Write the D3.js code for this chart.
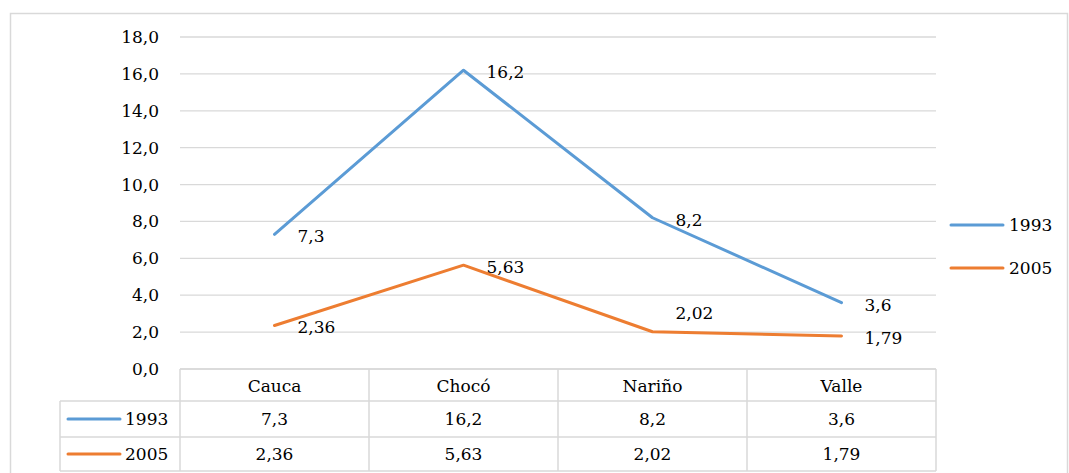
<!DOCTYPE html>
<html>
<head>
<meta charset="utf-8">
<script src="https://cdn.jsdelivr.net/npm/d3@7"></script>
<style>
  body { margin: 0; background: #fff; }
  svg text { font-family: "DejaVu Serif", "Liberation Serif", serif; }
</style>
</head>
<body>
<div class="chart"></div>
<script>
// departments (x categories)
let departments = ["Cauca", "Chocó", "Nariño", "Valle"];
// series
let seriesNames = ["1993", "2005"];
let values1993 = [7.3, 16.2, 8.2, 3.6];
let values2005 = [2.36, 5.63, 2.02, 1.79];
// labels as shown in the table
let labels1993 = ["7,3", "16,2", "8,2", "3,6"];
let labels2005 = ["2,36", "5,63", "2,02", "1,79"];
// y ticks
let yTicks = [0, 2, 4, 6, 8, 10, 12, 14, 16, 18];

let colors = ["#5b9bd5", "#ed7d31"];
let series = [
    {name: seriesNames[0], values: values1993, labels: labels1993},
    {name: seriesNames[1], values: values2005, labels: labels2005}
];

let FONT = "DejaVu Serif";
let FS = 17;

let width = 1069, height = 473;
let svg = d3.select(".chart").append("svg")
    .attr("width", width)
    .attr("height", height);

// outer chart border
svg.append("rect")
    .attr("x", 10.5).attr("y", 13.5)
    .attr("width", 1057).attr("height", 470)
    .attr("fill", "none")
    .attr("stroke", "#d9d9d9")
    .attr("stroke-width", 1.5);

//scales
let x = d3.scaleBand().domain(departments).range([180, 936]);
let y = d3.scaleLinear().domain([0, 18]).range([369, 37]);

//gridlines
svg.append("g").selectAll("line")
    .data(yTicks)
    .join("line")
    .attr("x1", 180).attr("x2", 936)
    .attr("y1", d => y(d)).attr("y2", d => y(d))
    .attr("stroke", "#d9d9d9")
    .attr("stroke-width", 1.3);

// helper so every label gets the same font
let addText = (sel) => sel.attr("font-family", FONT).attr("font-size", FS).attr("fill", "#000");

// y axis labels (comma decimal)
let fmt = d => d3.format(".1f")(d).replace(".", ",");
svg.append("g").selectAll("text")
    .data(yTicks)
    .join("text")
    .call(addText)
    .attr("x", 159)
    .attr("y", d => y(d))
    .attr("dy", "0.35em")
    .attr("text-anchor", "end")
    .text(fmt);

//lines
let line = d3.line()
    .x((d, i) => x(departments[i]) + x.bandwidth() / 2)
    .y(d => y(d));

svg.append("g").selectAll("path")
    .data(series)
    .join("path")
    .attr("d", d => line(d.values))
    .attr("fill", "none")
    .attr("stroke", (d, i) => colors[i])
    .attr("stroke-width", 3)
    .attr("stroke-linejoin", "round")
    .attr("stroke-linecap", "round");

// data labels, right of each point (2005 Nariño sits above)
series.forEach((s, si) => {
    svg.append("g").selectAll("text")
        .data(s.values)
        .join("text")
        .call(addText)
        .attr("x", (d, i) => x(departments[i]) + x.bandwidth() / 2 + 23)
        .attr("y", (d, i) => y(d) + ((si === 1 && i === 2) ? -19 : 2))
        .attr("dy", "0.35em")
        .text((d, i) => s.labels[i]);
});

// right legend
let legend = svg.append("g");
series.forEach((s, i) => {
    let ly = 225 + i * 43;
    legend.append("line")
        .attr("x1", 951).attr("x2", 1003)
        .attr("y1", ly).attr("y2", ly)
        .attr("stroke", colors[i])
        .attr("stroke-width", 3)
        .attr("stroke-linecap", "round");
    legend.append("text")
        .call(addText)
        .attr("x", 1009).attr("y", ly)
        .attr("dy", "0.35em")
        .text(s.name);
});

// data table under the axis
let rowY = [369, 401, 437, 471];
let table = svg.append("g").attr("stroke", "#d9d9d9").attr("stroke-width", 1.5);
// horizontal lines
table.append("line").attr("x1", 180).attr("x2", 936).attr("y1", rowY[0]).attr("y2", rowY[0]);
rowY.slice(1).forEach(ry => {
    table.append("line").attr("x1", 60).attr("x2", 936).attr("y1", ry).attr("y2", ry);
});
// vertical lines
table.append("line").attr("x1", 60).attr("x2", 60).attr("y1", rowY[1]).attr("y2", rowY[3]);
departments.forEach(dep => {
    table.append("line")
        .attr("x1", x(dep)).attr("x2", x(dep))
        .attr("y1", rowY[0]).attr("y2", rowY[3]);
});
table.append("line").attr("x1", 936).attr("x2", 936).attr("y1", rowY[0]).attr("y2", rowY[3]);

// header text
svg.append("g").selectAll("text")
    .data(departments)
    .join("text")
    .call(addText)
    .attr("x", d => x(d) + x.bandwidth() / 2)
    .attr("y", (rowY[0] + rowY[1]) / 2 + 1)
    .attr("dy", "0.35em")
    .attr("text-anchor", "middle")
    .text(d => d);

// table rows
series.forEach((s, si) => {
    let cy = (rowY[si + 1] + rowY[si + 2]) / 2;
    svg.append("line")
        .attr("x1", 68).attr("x2", 120)
        .attr("y1", cy).attr("y2", cy)
        .attr("stroke", colors[si])
        .attr("stroke-width", 3)
        .attr("stroke-linecap", "round");
    svg.append("text")
        .call(addText)
        .attr("x", 125).attr("y", cy)
        .attr("dy", "0.35em")
        .text(s.name);
    svg.append("g").selectAll("text")
        .data(s.labels)
        .join("text")
        .call(addText)
        .attr("x", (d, i) => x(departments[i]) + x.bandwidth() / 2)
        .attr("y", cy)
        .attr("dy", "0.35em")
        .attr("text-anchor", "middle")
        .text(d => d);
});
</script>
</body>
</html>
